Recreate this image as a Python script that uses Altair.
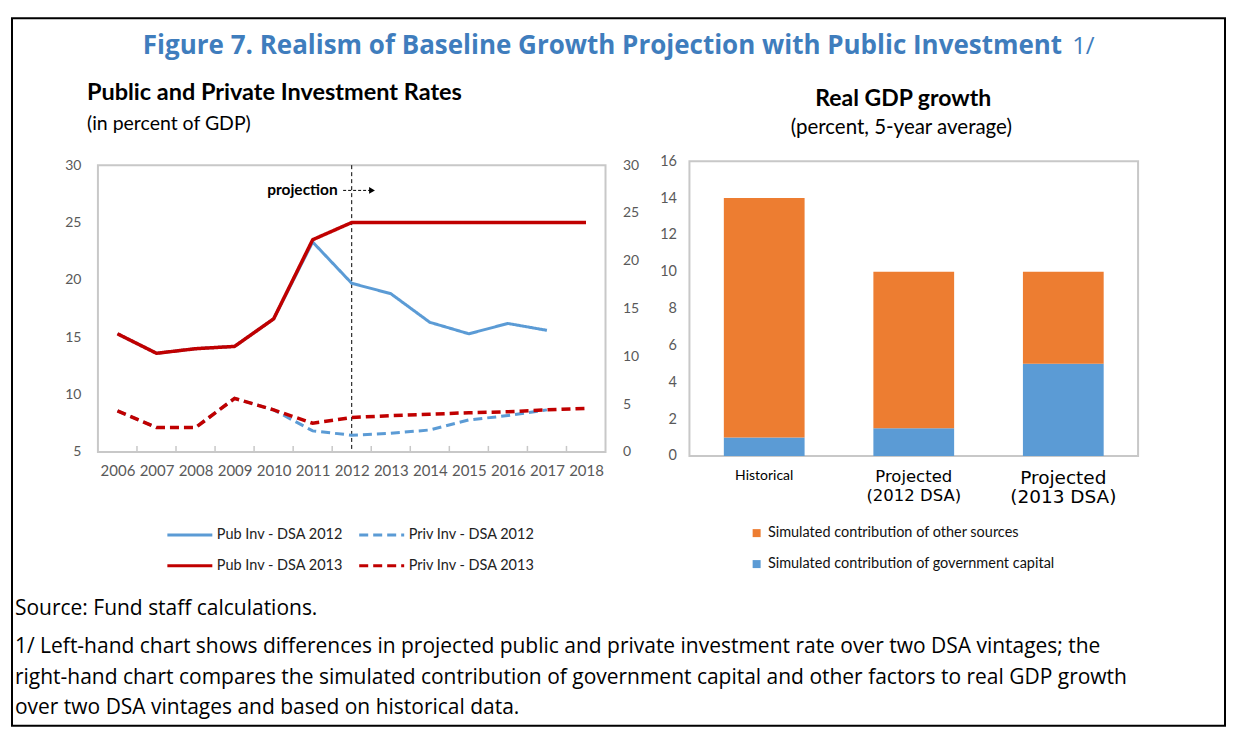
import altair as alt
import pandas as pd

# ---------------- data ----------------
years = list(range(2006, 2019))
pub_dsa2012 = [15.3, 13.6, 14.0, 14.2, 16.6, 23.3, 19.7, 18.8, 16.3, 15.3, 16.2, 15.6, None]
pub_dsa2013 = [15.3, 13.6, 14.0, 14.2, 16.6, 23.5, 25.0, 25.0, 25.0, 25.0, 25.0, 25.0, 25.0]
priv_dsa2012 = [4.3, 2.55, 2.55, 5.6, 4.4, 2.2, 1.75, 1.95, 2.3, 3.35, 3.8, 4.4, None]
priv_dsa2013 = [4.3, 2.55, 2.55, 5.6, 4.4, 3.0, 3.6, 3.8, 3.95, 4.1, 4.2, 4.4, 4.55]

# legend order (column-major fill: Pub12 / Pub13 in column 1, Priv12 / Priv13 in column 2)
series_names = ["Pub Inv - DSA 2012", "Pub Inv - DSA 2013",
                "Priv Inv - DSA 2012", "Priv Inv - DSA 2013"]

categories = ["Historical", "Projected (2012 DSA)", "Projected (2013 DSA)"]
gov_capital = [1.0, 1.5, 5.0]
other_sources = [13.0, 8.5, 5.0]
components = ["Simulated contribution of other sources",
              "Simulated contribution of government capital"]

main_title = "Figure 7. Realism of Baseline Growth Projection with Public Investment"
main_title_note = "1/"
left_title = "Public and Private Investment Rates"
left_subtitle = "(in percent of GDP)"
right_title = "Real GDP growth"
right_subtitle = "(percent, 5-year average)"
source_line = "Source: Fund staff calculations."
note_lines = [
    "1/ Left-hand chart shows differences in projected public and private investment rate over two DSA vintages; the",
    "right-hand chart compares the simulated contribution of government capital and other factors to real GDP growth",
    "over two DSA vintages and based on historical data.",
]

# ---------------- styling ----------------
BLUE = "#5B9BD5"
RED = "#C00000"
ORANGE = "#ED7D31"
TITLE_BLUE = "#3F7DBD"
LBL = "#595959"


def series_df(name, vals):
    return pd.DataFrame({"year": years, "value": vals, "series": name}).dropna()


x_enc = alt.X("year:Q",
              scale=alt.Scale(domain=[2005.5, 2018.5], nice=False, zero=False),
              axis=alt.Axis(values=years, format="d", title=None, labelPadding=12,
                            labelOverlap=False, labelFlush=False, labelFontSize=15))

left_legend = alt.Legend(title=None, orient="none", legendX=68, legendY=346,
                         columns=2, symbolType="stroke", symbolSize=2025,
                         symbolStrokeWidth=3, labelFont="Lato", labelFontSize=14.5,
                         labelColor="#222222", columnPadding=9, rowPadding=-15,
                         labelOffset=3, padding=0, labelLimit=300)
color_enc = alt.Color("series:N",
                      scale=alt.Scale(domain=series_names, range=[BLUE, RED, BLUE, RED]),
                      legend=left_legend)
dash_enc = alt.StrokeDash("series:N",
                          scale=alt.Scale(domain=series_names,
                                          range=[[1, 0], [1, 0], [9, 5], [9, 5]]),
                          legend=left_legend)

y_left = alt.Y("value:Q", scale=alt.Scale(domain=[5, 30], nice=False, zero=False),
               axis=alt.Axis(orient="left", values=[5, 10, 15, 20, 25, 30], title=None,
                             labelPadding=17, labelFontSize=14))
y_right = alt.Y("value:Q", scale=alt.Scale(domain=[0, 30], nice=False, zero=False),
                axis=alt.Axis(orient="right", values=[0, 5, 10, 15, 20, 25, 30], title=None,
                              labelPadding=17, labelFontSize=14))

one = pd.DataFrame({"k": [0]})


def text_at(txt, x, y, **kw):
    return alt.Chart(pd.DataFrame({"t": [txt]})).mark_text(**kw).encode(
        x=alt.value(x), y=alt.value(y), text="t:N")


# border of whole figure (decorative frame)
border = alt.Chart(one).mark_rect(fillOpacity=0, stroke="black", strokeWidth=2).encode(
    x=alt.value(-86), x2=alt.value(1128), y=alt.value(-147), y2=alt.value(561))

t_main = text_at(main_title, 965, -111, align="right", baseline="alphabetic",
                 font="Open Sans", fontSize=26, fontWeight="bold", color=TITLE_BLUE)
t_main_note = text_at(main_title_note, 975, -111, align="left", baseline="alphabetic",
                      font="Open Sans", fontSize=24, color=TITLE_BLUE)
t_left = text_at(left_title, -11, -65, align="left", baseline="alphabetic",
                 font="Lato", fontSize=23.5, fontWeight="bold", color="black")
t_left_sub = text_at(left_subtitle, -11, -35, align="left", baseline="alphabetic",
                     font="Lato", fontSize=19.5, color="black")
t_source = text_at(source_line, -83, 444, align="left", baseline="middle",
                   font="Open Sans", fontSize=21, color="black")
t_notes = text_at("\n".join(note_lines), -83, 482.5, align="left", baseline="middle",
                  font="Open Sans", fontSize=21, color="black", lineBreak="\n",
                  lineHeight=30.5)

vline = alt.Chart(pd.DataFrame({"year": [2012]})).mark_rule(
    color="black", strokeWidth=1, strokeDash=[4, 3]).encode(x=x_enc)

bound_ticks = alt.Chart(pd.DataFrame({"year": [y + 0.5 for y in years[:-1]]})).mark_rule(
    color="#C8C8C8", strokeWidth=1.5).encode(x=x_enc, y=alt.value(281), y2=alt.value(287))

pub12 = alt.Chart(series_df(series_names[0], pub_dsa2012)).mark_line(strokeWidth=3).encode(
    x=x_enc, y=y_left, color=color_enc, strokeDash=dash_enc)
pub13 = alt.Chart(series_df(series_names[1], pub_dsa2013)).mark_line(strokeWidth=3.5).encode(
    x=x_enc, y=y_left, color=color_enc, strokeDash=dash_enc)

proj_text = alt.Chart(pd.DataFrame({"year": [2011.64], "value": [27.8], "t": ["projection"]})).mark_text(
    align="right", baseline="middle", font="Lato", fontSize=15.5, fontWeight="bold",
    color="black").encode(x=x_enc, y=y_left, text="t:N")
arrow_line = alt.Chart(pd.DataFrame({"year": [2011.78], "year2": [2012.5], "value": [27.8]})).mark_rule(
    color="black", strokeWidth=1, strokeDash=[3, 2]).encode(x=x_enc, x2="year2:Q", y=y_left)
arrow_head = alt.Chart(pd.DataFrame({"year": [2012.52], "value": [27.8]})).mark_point(
    shape="triangle-right", filled=True, size=45, color="black", opacity=1).encode(x=x_enc, y=y_left)

priv12 = alt.Chart(series_df(series_names[2], priv_dsa2012)).mark_line(strokeWidth=3).encode(
    x=x_enc, y=y_right, color=color_enc, strokeDash=dash_enc)
priv13 = alt.Chart(series_df(series_names[3], priv_dsa2013)).mark_line(strokeWidth=3.5).encode(
    x=x_enc, y=y_right, color=color_enc, strokeDash=dash_enc)

left_main = alt.layer(border, t_main, t_main_note, t_left, t_left_sub, t_source, t_notes,
                      bound_ticks, vline, pub12, pub13, proj_text, arrow_line, arrow_head)
left_priv = alt.layer(priv12, priv13)
left = alt.layer(left_main, left_priv).resolve_scale(y="independent").properties(
    width=508, height=287)

# ---------------- right chart ----------------
bar_rows = []
for c, g, o in zip(categories, gov_capital, other_sources):
    bar_rows.append({"category": c, "component": components[1], "value": g, "order": 0})
    bar_rows.append({"category": c, "component": components[0], "value": o, "order": 1})
bars_df = pd.DataFrame(bar_rows)

bars = alt.Chart(bars_df).mark_bar().encode(
    x=alt.X("category:N", sort=categories,
            scale=alt.Scale(paddingInner=0.46, paddingOuter=0.23),
            axis=alt.Axis(title=None, labelAngle=0, labelPadding=13, labelColor="black",
                          labelExpr="datum.label == 'Historical' ? datum.label : [slice(datum.label, 0, 9), slice(datum.label, 10)]",
                          labelFont={"condition": {"test": "datum.label == 'Historical'", "value": "Lato"},
                                     "value": "DejaVu Sans"},
                          labelFontSize={"condition": [
                              {"test": "datum.label == 'Historical'", "value": 14},
                              {"test": "datum.label == 'Projected (2013 DSA)'", "value": 18.5}],
                              "value": 16.5},
                          labelLineHeight=19)),
    y=alt.Y("value:Q", stack="zero",
            scale=alt.Scale(domain=[0, 16], nice=False),
            axis=alt.Axis(values=[0, 2, 4, 6, 8, 10, 12, 14, 16], title=None, labelPadding=13,
                          labelFontSize=14.5)),
    color=alt.Color("component:N",
                    scale=alt.Scale(domain=components, range=[ORANGE, BLUE]),
                    legend=alt.Legend(title=None, orient="none", legendX=60, legendY=365,
                                      symbolType="square", symbolSize=64, labelFont="Lato",
                                      labelFontSize=14.5, labelColor="#111111", rowPadding=16,
                                      labelOffset=4, padding=0, symbolStrokeWidth=0,
                                      labelLimit=500)),
    order=alt.Order("order:Q"),
)

t_right = text_at(right_title, 214, -55, align="center", baseline="alphabetic",
                  font="Lato", fontSize=23, fontWeight="bold", color="black")
t_right_sub = text_at(right_subtitle, 212, -27, align="center", baseline="alphabetic",
                      font="Lato", fontSize=20.5, color="black")

right = alt.layer(bars, t_right, t_right_sub).properties(width=449, height=295)

chart = alt.hconcat(left, right, spacing=84, bounds="flush", center=True).resolve_scale(
    color="independent", strokeDash="independent"
).configure_view(
    stroke="#C8C8C8", strokeWidth=2
).configure_axis(
    labelFont="Lato", labelColor=LBL, domain=False, ticks=False, grid=False, labelFontSize=14
).properties(
    padding={"left": 2, "top": 8, "right": 0, "bottom": 0}
)

chart.save("out.html", embed_options={"renderer": "svg", "actions": False})
